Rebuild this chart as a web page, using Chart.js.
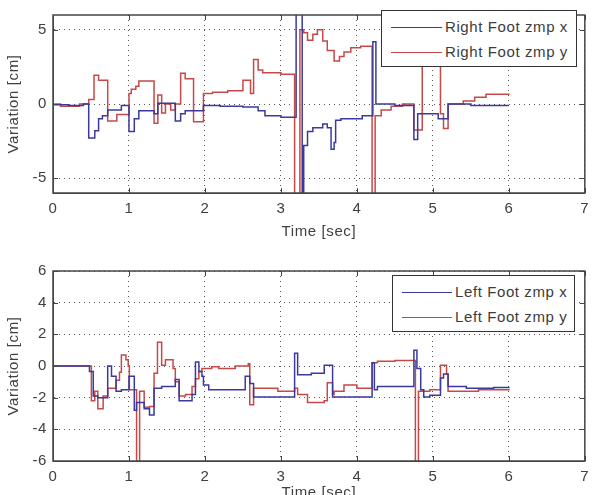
<!DOCTYPE html>
<html>
<head>
<meta charset="utf-8">
<script src="https://cdn.jsdelivr.net/npm/chart.js@4.4.1/dist/chart.umd.min.js"></script>
<style>
  html, body { margin: 0; padding: 0; background: #fff; }
  #wrap { position: relative; width: 596px; height: 495px; overflow: hidden; background: #fff; }
  canvas { position: absolute; left: 0; }
  .legend { position: absolute; background: #fff; border: 1px solid #333; box-sizing: border-box;
            font-family: "Liberation Sans", Arial, sans-serif; font-size: 15px; color: #3c3c3c; letter-spacing: 0.6px; }
  .row { position: absolute; left: 0; right: 0; height: 18px; }
  .row .ln { position: absolute; height: 0; border-top: 1.5px solid; }
  .row .tx { position: absolute; top: 0; line-height: 18px; white-space: nowrap; }
</style>
</head>
<body>
<div id="wrap">
  <canvas id="top" width="596" height="250" style="top:0"></canvas>
  <canvas id="bot" width="596" height="252" style="top:250px"></canvas>
  <div id="legTop" class="legend" style="left:381px; top:10px; width:196px; height:57px;"></div>
  <div id="legBot" class="legend" style="left:392px; top:275px; width:183px; height:57px;"></div>
</div>
<script>
// ---------------- DATA ----------------
const xTicks = [0, 1, 2, 3, 4, 5, 6, 7];
const topYTicks = [-5, 0, 5];
const botYTicks = [-6, -4, -2, 0, 2, 4, 6];
const labels = ["Right Foot zmp x", "Right Foot zmp y", "Left Foot zmp x", "Left Foot zmp y"];

const rightXTime = [0, 0.2, 0.4, 0.47, 0.55, 0.6, 0.65, 0.72, 0.9, 1.0, 1.07, 1.13, 1.33, 1.38, 1.61, 1.68, 1.74, 1.98,
  2.2, 2.5, 2.7, 2.79, 3.0, 3.2, 3.28, 3.30, 3.35, 3.42, 3.55, 3.61, 3.66, 3.7, 3.72, 3.79, 4.07, 4.21, 4.25, 4.5,
  4.75, 4.8, 5.07, 5.2, 5.5, 6.0];
const rightXVal = [-0.05, -0.1, 0, -2.3, -1.8, -1.0, -0.8, -0.4, -0.1, -1.85, -1.0, -0.45, -0.65, 0.05, -1.15, -0.65, -0.45, -0.1,
  -0.15, -0.2, -0.45, -0.8, -0.9, 8, -8, -2.8, -1.85, -1.6, -1.35, -1.6, -3.05, -2.6, -1.1, -1.0, -0.8, 4.2, 0, -0.1,
  -2.4, -0.65, -1.0, 0, -0.1, -0.1];

const rightYTime = [0, 0.1, 0.35, 0.47, 0.54, 0.6, 0.72, 0.84, 1.0, 1.03, 1.09, 1.13, 1.33, 1.38, 1.43, 1.48, 1.55, 1.61,
  1.68, 1.74, 1.85, 1.98, 2.1, 2.3, 2.5, 2.6, 2.64, 2.7, 2.76, 3.0, 3.18, 3.25, 3.3, 3.35, 3.42, 3.48, 3.55, 3.61,
  3.7, 3.77, 3.83, 3.92, 4.05, 4.2, 4.24, 4.32, 4.45, 4.6, 4.75, 4.86, 5.1, 5.14, 5.2, 5.4, 5.55, 5.7, 6.0];
const rightYVal = [0, -0.15, 0, 0.3, 1.93, 1.6, -1.15, -0.7, 0.7, 1.0, 1.2, 1.55, -1.3, 0.6, -0.6, 0, -0.4, 0,
  2.08, 1.7, -1.2, 0.7, 0.8, 0.9, 1.6, 0.7, 3.0, 2.3, 2.1, 2.0, -8, 5.0, 4.8, 4.3, 4.7, 5.0, 4.25, 3.6,
  2.9, 3.2, 3.5, 3.8, 3.9, -8, -0.8, -0.4, -0.15, 0, -1.75, 8, -0.65, -1.65, 0, 0.2, 0.45, 0.65, 0.6];

const leftXTime = [0, 0.48, 0.53, 0.59, 0.72, 0.77, 0.83, 0.9, 1.0, 1.07, 1.1, 1.2, 1.27, 1.33, 1.43, 1.61, 1.66, 1.83,
  1.875, 1.92, 1.96, 1.98, 2.05, 2.44, 2.53, 2.59, 2.64, 3.18, 3.22, 3.4, 3.57, 3.68, 4.2, 4.23, 4.27, 4.75, 4.79,
  4.84, 4.88, 4.96, 5.1, 5.14, 5.2, 5.44, 5.8, 6.0];
const leftXVal = [0, -0.35, -1.9, -2.0, 0, -0.65, -1.6, -1.5, -0.65, -2.8, -2.3, -2.7, -3.1, -1.4, -1.3, -0.85, -2.2, -1.8,
  0.25, -0.35, -0.65, -1.2, -1.5, -1.5, -0.65, -1.1, -1.95, 0.8, -0.55, -0.45, 0.05, -1.95, 0.2, -1.5, -1.3, 1.0, -0.15,
  -1.5, -1.95, -1.85, -0.75, -0.5, -1.3, -1.4, -1.35, -1.4];

const leftYTime = [0, 0.505, 0.55, 0.59, 0.66, 0.72, 0.83, 0.875, 0.9, 0.96, 0.99, 1.005, 1.1, 1.14, 1.2, 1.27, 1.33, 1.375,
  1.43, 1.48, 1.58, 1.61, 1.66, 1.745, 1.83, 1.875, 1.92, 1.96, 2.09, 2.18, 2.4, 2.57, 2.59, 2.64, 2.96, 3.18, 3.22,
  3.35, 3.57, 3.61, 3.68, 3.7, 3.83, 4.0, 4.2, 4.27, 4.5, 4.77, 4.81, 4.96, 5.1, 5.18, 5.2, 5.6, 6.0];
const leftYVal = [0, -2.2, -1.6, -2.7, -1.9, -1.4, -0.9, -0.4, 0.7, 0.4, 0, -1.5, -8, -1.6, -2.6, -2.55, -0.45, 1.5,
  0.05, 0.4, -0.15, -1.0, -1.9, -1.8, -1.3, -0.8, -0.35, -0.15, -0.05, -0.15, 0, 0.15, -2.45, -1.4, -1.6, -1.4, -1.8,
  -2.3, -2.2, -1.05, -1.8, -1.6, -1.2, -1.4, 0.2, 0.3, 0.35, -8, -1.6, -1.5, 0.05, -0.5, -1.6, -1.5, -1.45];

// ---------------- STYLE ----------------
const BLUE = '#3a3a9e';
const RED = '#c64848';
const FONT = '"Liberation Sans", Arial, sans-serif';
const TXT = '#404040';

function pts(ts, vs) { return ts.map((t, i) => ({ x: t, y: vs[i] })); }

const frame = {
  id: 'frame',
  beforeDraw(chart) { chart.ctx.letterSpacing = '0.6px'; },
  afterDraw(chart) {
    const { ctx, chartArea: a, scales: { x, y } } = chart;
    ctx.save();
    ctx.strokeStyle = '#454545';
    ctx.lineWidth = 1;
    ctx.setLineDash([]);
    ctx.beginPath();
    x.ticks.forEach(t => {
      const px = Math.round(x.getPixelForValue(t.value)) + 0.5;
      ctx.moveTo(px, a.bottom); ctx.lineTo(px, a.bottom - 5);
      ctx.moveTo(px, a.top); ctx.lineTo(px, a.top + 5);
    });
    y.ticks.forEach(t => {
      const py = Math.round(y.getPixelForValue(t.value)) + 0.5;
      ctx.moveTo(a.left, py); ctx.lineTo(a.left + 5, py);
      ctx.moveTo(a.right, py); ctx.lineTo(a.right - 5, py);
    });
    ctx.stroke();
    ctx.lineWidth = 1.5;
    ctx.strokeRect(a.left, a.top, a.right - a.left, a.bottom - a.top);
    ctx.restore();
  }
};

function makeChart(id, sets, yTicks, padTop, xHeight, titlePadBottom) {
  return new Chart(document.getElementById(id), {
    type: 'line',
    data: {
      datasets: sets.map(s => ({
        label: s.label, data: s.data, borderColor: s.color, borderWidth: 1.5,
        pointRadius: 0, stepped: true, fill: false, tension: 0
      }))
    },
    options: {
      responsive: false, animation: false, devicePixelRatio: 1,
      layout: { padding: { left: 0, right: 7, top: padTop, bottom: 0 } },
      plugins: { legend: { display: false }, tooltip: { enabled: false } },
      scales: {
        x: {
          type: 'linear', min: 0, max: 7,
          afterBuildTicks: s => { s.ticks = xTicks.map(v => ({ value: v })); },
          afterFit: s => { s.height = xHeight; },
          grid: { color: '#555', lineWidth: 1, drawTicks: false },
          border: { display: true, color: '#454545', dash: [1, 4] },
          ticks: { color: TXT, font: { family: FONT, size: 15 }, padding: 7, maxRotation: 0 },
          title: { display: true, text: 'Time [sec]', color: TXT, font: { family: FONT, size: 15 },
                   padding: { top: 0, bottom: titlePadBottom } }
        },
        y: {
          min: -6, max: 6,
          afterBuildTicks: s => { s.ticks = yTicks.map(v => ({ value: v })); },
          afterFit: s => { s.width = 53; },
          grid: { color: '#555', lineWidth: 1, drawTicks: false },
          border: { display: true, color: '#454545', dash: [1, 4] },
          ticks: { color: TXT, font: { family: FONT, size: 15 }, padding: 6 },
          title: { display: true, text: 'Variation [cm]', color: TXT, font: { family: FONT, size: 15 },
                   padding: { top: 5, bottom: 0 } }
        }
      }
    },
    plugins: [frame]
  });
}

makeChart('top', [
  { label: labels[0], data: pts(rightXTime, rightXVal), color: BLUE },
  { label: labels[1], data: pts(rightYTime, rightYVal), color: RED }
], topYTicks, 5, 57, 9);

makeChart('bot', [
  { label: labels[2], data: pts(leftXTime, leftXVal), color: BLUE },
  { label: labels[3], data: pts(leftYTime, leftYVal), color: RED }
], botYTicks, 21, 41, 0);

function legend(id, items, lineL, lineR, textL, rows) {
  const el = document.getElementById(id);
  items.forEach((it, i) => {
    const r = document.createElement('div');
    r.className = 'row';
    r.style.top = (rows[i] - 9) + 'px';
    const ln = document.createElement('div');
    ln.className = 'ln';
    ln.style.left = lineL + 'px'; ln.style.width = (lineR - lineL) + 'px'; ln.style.top = '9px';
    ln.style.borderColor = it.color;
    const tx = document.createElement('div');
    tx.className = 'tx'; tx.style.left = textL + 'px'; tx.textContent = it.label;
    r.appendChild(ln); r.appendChild(tx); el.appendChild(r);
  });
}
legend('legTop', [{ label: labels[0], color: BLUE }, { label: labels[1], color: RED }], 9, 60, 63, [16, 41]);
legend('legBot', [{ label: labels[2], color: BLUE }, { label: labels[3], color: RED }], 9, 59, 62, [16, 41]);
</script>
</body>
</html>
